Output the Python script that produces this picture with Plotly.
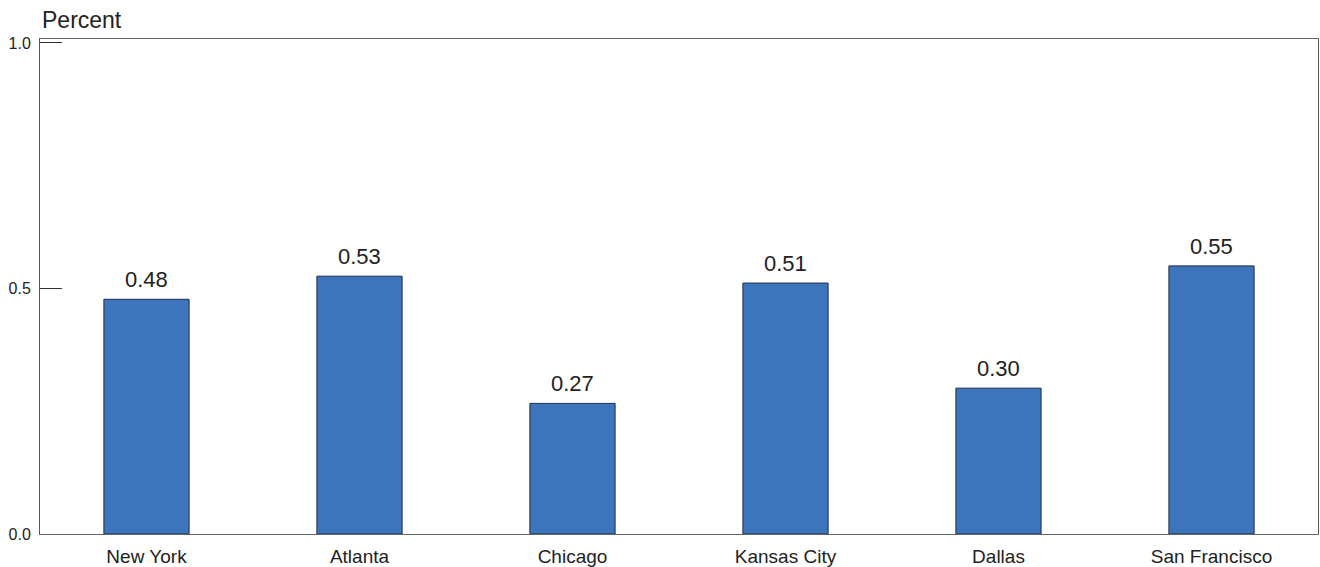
import plotly.graph_objects as go

categories = ["New York", "Atlanta", "Chicago", "Kansas City", "Dallas", "San Francisco"]
values = [0.478, 0.525, 0.266, 0.511, 0.297, 0.546]
value_labels = ["0.48", "0.53", "0.27", "0.51", "0.30", "0.55"]
y_ticks = [0.0, 0.5, 1.0]
y_tick_labels = ["0.0", "0.5", "1.0"]

FONT = "Liberation Sans, Arial"

fig = go.Figure()
fig.add_trace(go.Bar(
    x=categories, y=values,
    marker=dict(color="#3c75bb", line=dict(color="#1e2c48", width=1)),
    width=0.4,
))

annotations = [dict(x=c, y=v, text=t, xref="x", yref="y", showarrow=False,
                    yanchor="bottom", yshift=5,
                    font=dict(size=22, color="#222222", family=FONT))
               for c, v, t in zip(categories, values, value_labels)]
annotations.append(dict(text="Percent", xref="paper", yref="paper", x=0, y=1.0,
                        xanchor="left", yanchor="bottom", xshift=0, yshift=4,
                        showarrow=False, font=dict(size=23, color="#222222", family=FONT)))

fig.update_layout(
    width=1320, height=567,
    autosize=False,
    margin=dict(l=40, r=2, t=39, b=33, autoexpand=False),
    paper_bgcolor="white", plot_bgcolor="white",
    showlegend=False,
    font=dict(family=FONT, color="#222222"),
    xaxis=dict(showgrid=False, showline=True, mirror=True, linecolor="#666666", linewidth=1,
               ticks="", tickfont=dict(size=19, color="#222222"), automargin=False,
               ticklabelstandoff=5),
    yaxis=dict(range=[0, 1.008], tickvals=y_ticks, ticktext=y_tick_labels,
               showgrid=False, zeroline=False, showline=True, mirror=True,
               linecolor="#555555", linewidth=1,
               ticks="inside", ticklen=22, tickcolor="#333333", tickwidth=1,
               tickfont=dict(size=16, color="#222222"), automargin=False,
               ticklabelstandoff=5),
    annotations=annotations,
)

post = ("document.body.style.margin='0';"
        "var gd=document.getElementById('{plot_id}');"
        "Plotly.relayout(gd,{width:1320,height:567});")
fig.write_html("out.html", post_script=post, config={"displayModeBar": False})
